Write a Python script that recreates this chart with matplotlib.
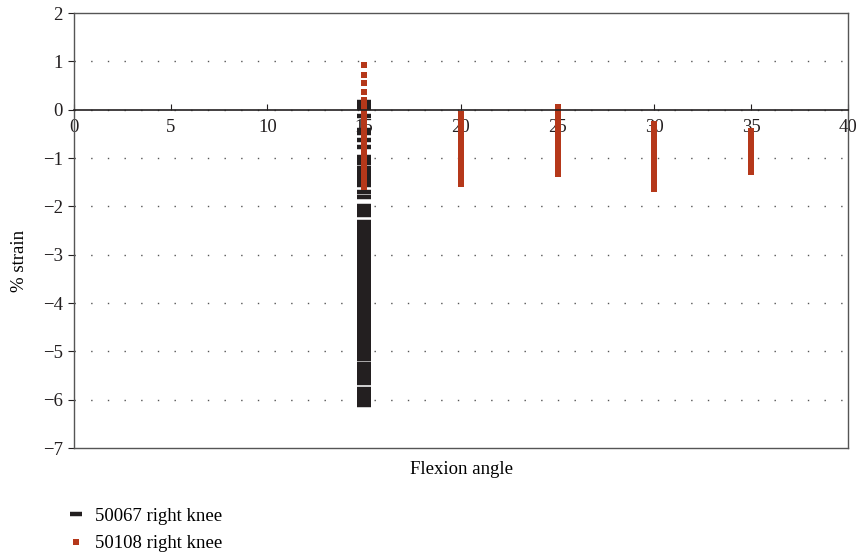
import numpy as np
import matplotlib.pyplot as plt

plt.rcParams['font.family'] = ['Liberation Serif', 'DejaVu Serif']

# flexion angle / % strain readings
x_50067 = 15
strain_50067 = [0.16, 0.12, 0.08, 0.04, -0.14, -0.41, -0.45, -0.48, -0.62, -0.77,
                -0.97, -1.01, -1.05, -1.10, -1.20, -1.25, -1.30, -1.35, -1.41, -1.45,
                -1.50, -1.55, -1.70, -1.80, -1.99, -2.04, -2.07, -2.13, -2.17, -2.32,
                -2.37, -2.42, -2.47, -2.53, -2.56, -2.61, -2.64, -2.69, -2.74, -2.80,
                -2.86, -2.90, -2.95, -3.00, -3.05, -3.10, -3.15, -3.20, -3.25, -3.30,
                -3.35, -3.40, -3.45, -3.50, -3.55, -3.60, -3.65, -3.70, -3.75, -3.80,
                -3.85, -3.90, -3.95, -4.00, -4.05, -4.10, -4.15, -4.20, -4.25, -4.30,
                -4.35, -4.40, -4.45, -4.50, -4.55, -4.60, -4.65, -4.70, -4.75, -4.80,
                -4.85, -4.90, -4.96, -5.01, -5.06, -5.11, -5.16, -5.25, -5.30, -5.35,
                -5.40, -5.45, -5.50, -5.55, -5.60, -5.65, -5.77, -5.82, -5.87, -5.96,
                -6.01, -6.06, -6.11]

angles_50108 = [15, 20, 25, 30, 35]
strain_50108 = {
    15: [0.92, 0.72, 0.56, 0.37, 0.20, 0.10, 0.0, -0.1, -0.2, -0.3, -0.4, -0.5,
         -0.6, -0.7, -0.8, -0.9, -1.0, -1.1, -1.2, -1.3, -1.4, -1.5, -1.6],
    20: [-0.09, -0.18, -0.28, -0.38, -0.48, -0.58, -0.68, -0.78, -0.88, -0.98,
         -1.08, -1.18, -1.28, -1.38, -1.48, -1.53],
    25: [0.06, -0.04, -0.14, -0.24, -0.34, -0.44, -0.54, -0.64, -0.74, -0.84,
         -0.94, -1.04, -1.14, -1.24, -1.32],
    30: [-0.30, -0.40, -0.50, -0.60, -0.70, -0.80, -0.90, -1.00, -1.10, -1.20,
         -1.30, -1.40, -1.50, -1.60, -1.64],
    35: [-0.44, -0.54, -0.64, -0.74, -0.84, -0.94, -1.04, -1.14, -1.24, -1.29],
}

black = '#231f20'
red = '#b5381a'

fig = plt.figure(figsize=(8.6, 5.54), dpi=100)
ax = fig.add_axes([0.086, 0.191, 0.9, 0.7855])

ax.plot([x_50067] * len(strain_50067), strain_50067, linestyle='none',
        marker='_', ms=10, mew=3.2, color=black, label='50067 right knee')
for a in angles_50108:
    ax.plot([a] * len(strain_50108[a]), strain_50108[a], linestyle='none',
            marker='s', ms=4.6, mew=0, color=red,
            label='50108 right knee' if a == 15 else None)

ax.set_xlim(0, 40)
ax.set_ylim(-7, 2)
ax.set_xticks(range(0, 41, 5))
ax.set_yticks(range(-7, 3))

# dotted horizontal grid
for v in range(-6, 2):
    ax.axhline(v, color='#555555', lw=1.0, linestyle=(0, (1, 11)), zorder=0)

# x axis runs through zero, frame kept around the plot area
ax.spines['bottom'].set_position(('data', 0))
ax.spines['bottom'].set_color(black)
ax.spines['bottom'].set_linewidth(1.2)
for s in ['top', 'right', 'left']:
    ax.spines[s].set_color('#555555')
    ax.spines[s].set_linewidth(1.0)
ax.axhline(-7, color='#555555', lw=1.0, clip_on=False)

ax.tick_params(axis='x', direction='in', length=4, pad=7, labelsize=13.5, colors=black)
ax.tick_params(axis='y', direction='out', length=4, pad=4, labelsize=13.5, colors=black)

ax.set_ylabel('% strain', fontsize=13.5)
ax.yaxis.set_label_coords(-0.06, 0.43)
fig.text(0.537, 0.152, 'Flexion angle', ha='center', va='center', fontsize=13.5)

fig.legend(loc='lower left', bbox_to_anchor=(0.062, -0.027), frameon=False,
           fontsize=13.5, handlelength=0.6, handletextpad=0.7, labelspacing=0.55,
           markerscale=0.8)

fig.savefig('out.png', dpi=100)
